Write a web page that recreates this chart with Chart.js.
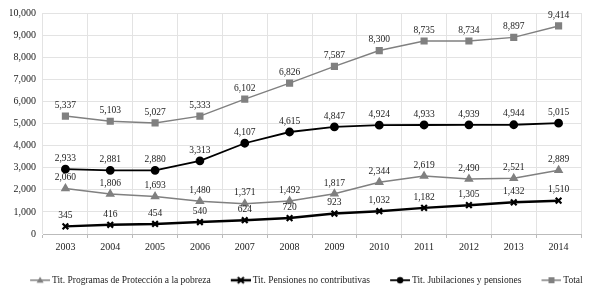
<!DOCTYPE html>
<html>
<head>
<meta charset="utf-8">
<script src="https://cdn.jsdelivr.net/npm/chart.js@4"></script>
<style>
  html, body { margin: 0; padding: 0; background: #fff; }
  #wrap { width: 600px; height: 295px; }
</style>
</head>
<body>
<div id="wrap"><canvas id="line-chart" width="600" height="295"></canvas></div>
<script>
var years = ['2003', '2004', '2005', '2006', '2007', '2008', '2009', '2010', '2011', '2012', '2013', '2014'];
var programas = [2060, 1806, 1693, 1480, 1371, 1492, 1817, 2344, 2619, 2490, 2521, 2889];
var noContributivas = [345, 416, 454, 540, 624, 720, 923, 1032, 1182, 1305, 1432, 1510];
var jubilaciones = [2933, 2881, 2880, 3313, 4107, 4615, 4847, 4924, 4933, 4939, 4944, 5015];
var total = [5337, 5103, 5027, 5333, 6102, 6826, 7587, 8300, 8735, 8734, 8897, 9414];

var seriesNames = [
  'Tit. Programas de Protección a la pobreza',
  'Tit. Pensiones no contributivas',
  'Tit. Jubilaciones y pensiones',
  'Total'
];

var fontFamily = "'Liberation Serif', 'Times New Roman', serif";

// line+marker picture for the legend; the left part of the canvas stays
// empty so that the gap between legend entries looks wider
function legendIcon(color, width, style) {
  var c = document.createElement('canvas');
  c.width = 35; c.height = 10;
  var ctx = c.getContext('2d');
  ctx.translate(15, 0);
  ctx.strokeStyle = color;
  ctx.fillStyle = color;
  ctx.lineWidth = width;
  ctx.beginPath(); ctx.moveTo(0, 5); ctx.lineTo(20, 5); ctx.stroke();
  if (style === 'triangle') {
    ctx.beginPath(); ctx.moveTo(10, 1.5); ctx.lineTo(13.5, 7.5); ctx.lineTo(6.5, 7.5); ctx.closePath(); ctx.fill();
  } else if (style === 'rect') {
    ctx.fillRect(7, 2, 6, 6);
  } else if (style === 'circle') {
    ctx.beginPath(); ctx.arc(10, 5, 3.2, 0, Math.PI * 2); ctx.fill();
  } else if (style === 'cross') {
    ctx.lineWidth = 2;
    ctx.beginPath(); ctx.moveTo(7, 2); ctx.lineTo(13, 8); ctx.moveTo(13, 2); ctx.lineTo(7, 8); ctx.stroke();
  }
  return c;
}

var valueLabels = {
  id: 'valueLabels',
  afterDatasetsDraw: function(chart) {
    var ctx = chart.ctx;
    ctx.save();
    ctx.font = '9.5px ' + fontFamily;
    ctx.fillStyle = '#222';
    ctx.textAlign = 'center';
    ctx.textBaseline = 'bottom';
    chart.data.datasets.forEach(function(ds, i) {
      chart.getDatasetMeta(i).data.forEach(function(pt, j) {
        ctx.fillText(ds.data[j].toLocaleString('en-US'), pt.x, pt.y - 6);
      });
    });
    ctx.restore();
  }
};

new Chart(document.getElementById('line-chart'), {
  type: 'line',
  data: {
    labels: years,
    datasets: [{
      label: seriesNames[0],
      data: programas,
      borderColor: '#808080',
      backgroundColor: '#808080',
      borderWidth: 1.5,
      pointStyle: 'triangle',
      pointRadius: 4,
      legendIcon: legendIcon('#808080', 1.5, 'triangle')
    }, {
      label: seriesNames[1],
      data: noContributivas,
      borderColor: '#000',
      backgroundColor: '#000',
      borderWidth: 2.5,
      pointStyle: 'crossRot',
      pointRadius: 4,
      pointBorderWidth: 2.2,
      legendIcon: legendIcon('#000', 2.5, 'cross')
    }, {
      label: seriesNames[2],
      data: jubilaciones,
      borderColor: '#000',
      backgroundColor: '#000',
      borderWidth: 1.8,
      pointStyle: 'circle',
      pointRadius: 3.5,
      legendIcon: legendIcon('#000', 1.8, 'circle')
    }, {
      label: seriesNames[3],
      data: total,
      borderColor: '#808080',
      backgroundColor: '#808080',
      borderWidth: 1.5,
      pointStyle: 'rect',
      pointRadius: 4,
      legendIcon: legendIcon('#808080', 1.5, 'rect')
    }]
  },
  options: {
    responsive: false,
    animation: false,
    layout: { padding: { top: 12, right: 0, left: 10, bottom: 0 } },
    plugins: {
      tooltip: { enabled: false },
      legend: {
        position: 'bottom',
        align: 'start',
        labels: {
          usePointStyle: true,
          pointStyleWidth: 29.2,
          padding: 8,
          color: '#222',
          font: { family: fontFamily, size: 9.5 },
          generateLabels: function(chart) {
            return chart.data.datasets.map(function(ds, i) {
              return {
                text: ds.label,
                pointStyle: ds.legendIcon,
                fillStyle: ds.borderColor,
                strokeStyle: ds.borderColor,
                lineWidth: 0,
                fontColor: '#222',
                datasetIndex: i
              };
            });
          }
        }
      }
    },
    scales: {
      x: {
        offset: true,
        grid: { offset: true, color: '#e3e3e3', tickLength: 4, tickColor: '#bbb' },
        border: { color: '#bbb' },
        afterFit: function(scale) { scale.height = 33.5; },
        ticks: { color: '#222', font: { family: fontFamily, size: 10 }, padding: 3 }
      },
      y: {
        min: 0,
        max: 10000,
        grid: { color: '#e3e3e3', drawTicks: false },
        border: { display: false },
        afterFit: function(scale) { scale.width = 33; },
        ticks: {
          stepSize: 1000,
          padding: 7,
          color: '#222',
          font: { family: fontFamily, size: 10 },
          callback: function(v) { return v.toLocaleString('en-US'); }
        }
      },
      // empty axis on the right, only keeps a margin right of the plot
      yRight: {
        position: 'right',
        min: 0,
        max: 10000,
        grid: { display: false },
        border: { display: false },
        ticks: { display: false },
        afterFit: function(scale) { scale.width = 19; }
      }
    }
  },
  plugins: [valueLabels]
});
</script>
</body>
</html>
